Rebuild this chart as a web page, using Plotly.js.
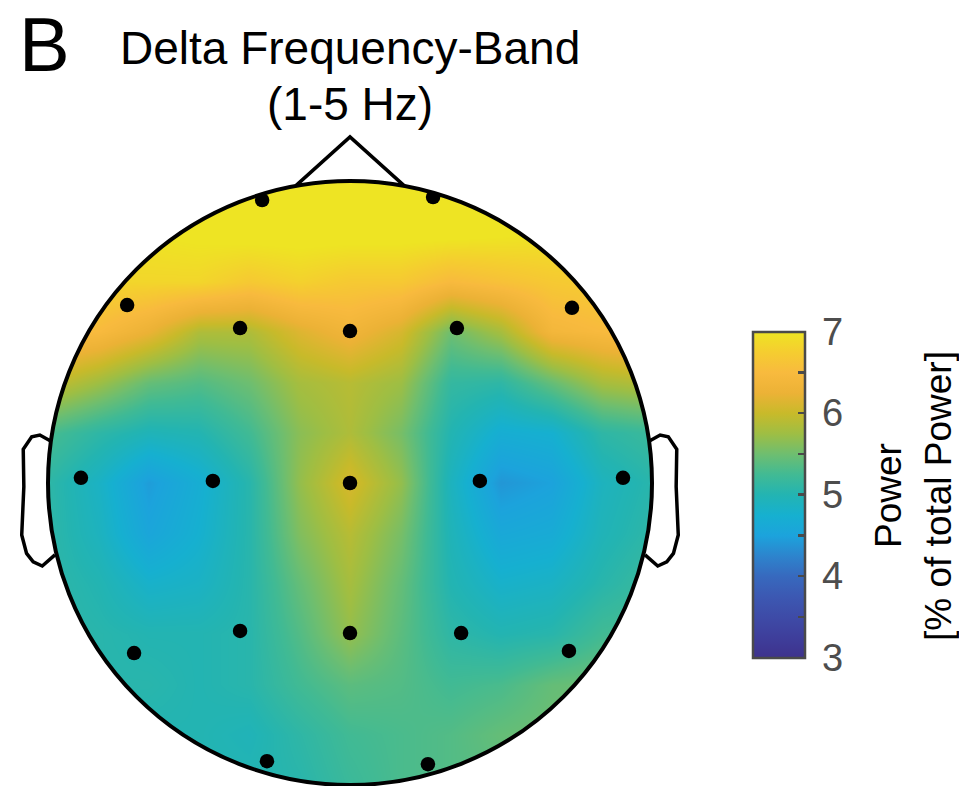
<!DOCTYPE html>
<html>
<head>
<meta charset="utf-8">
<script src="https://cdn.plot.ly/plotly-3.0.1.min.js"></script>
<style>
  html, body { margin: 0; padding: 0; background: #fff; }
  #topo { width: 959px; height: 786px; }
</style>
</head>
<body>
<div id="topo"></div>
<script>
// Scalp grid (head radius = 1), x left→right, rows listed front (nose) to back
const gridX = [-1, -0.8333, -0.6667, -0.5, -0.3333, -0.1667, 0, 0.1667, 0.3333, 0.5, 0.6667, 0.8333, 1];
const gridYFrontToBack = [1, 0.8333, 0.6667, 0.5, 0.3333, 0.1667, 0, -0.1667, -0.3333, -0.5, -0.6667, -0.8333, -1];
// Delta-band relative power (% of total power)
const powerFrontToBack = [
  [7.00, 7.00, 7.00, 7.00, 7.05, 7.05, 7.05, 7.05, 7.05, 7.00, 7.00, 7.00, 7.00],
  [6.95, 6.95, 7.00, 7.05, 7.10, 7.10, 7.10, 7.10, 7.10, 7.05, 7.00, 6.95, 6.90],
  [6.85, 6.85, 6.85, 6.85, 6.70, 6.80, 6.70, 6.70, 6.50, 6.60, 6.70, 6.75, 6.75],
  [6.60, 6.50, 6.25, 5.85, 5.85, 6.15, 6.35, 6.10, 5.50, 5.80, 6.40, 6.50, 6.60],
  [6.00, 5.75, 5.45, 5.35, 5.50, 5.80, 5.90, 5.75, 5.15, 5.10, 5.45, 5.80, 5.90],
  [5.30, 5.10, 4.95, 5.00, 5.25, 5.65, 5.85, 5.55, 5.00, 4.70, 4.75, 5.10, 5.20],
  [5.10, 4.85, 4.45, 4.70, 5.05, 5.70, 6.10, 5.70, 4.90, 4.40, 4.50, 4.90, 5.05],
  [5.10, 4.90, 4.55, 4.75, 5.05, 5.60, 5.90, 5.55, 4.95, 4.60, 4.65, 4.95, 5.10],
  [5.10, 5.00, 4.80, 4.85, 5.05, 5.45, 5.80, 5.45, 5.00, 4.80, 4.85, 5.05, 5.20],
  [5.10, 5.05, 5.00, 5.00, 5.05, 5.35, 5.70, 5.40, 5.10, 5.00, 5.05, 5.25, 5.30],
  [5.05, 5.05, 5.05, 5.00, 5.05, 5.25, 5.40, 5.35, 5.25, 5.30, 5.45, 5.50, 5.50],
  [5.00, 5.00, 5.00, 5.00, 4.95, 5.10, 5.25, 5.30, 5.35, 5.45, 5.50, 5.50, 5.50],
  [5.00, 5.00, 5.00, 5.00, 5.00, 5.05, 5.20, 5.30, 5.35, 5.40, 5.45, 5.50, 5.50]
];

// 10-20 electrode positions on the same unit-radius head
const channelNames = ['Fp1','Fp2','F7','F3','Fz','F4','F8','T3','C3','Cz','C4','T4','T5','P3','Pz','P4','T6','O1','O2'];
const channelX = [-0.291, 0.275, -0.738, -0.364, 0, 0.354, 0.735, -0.891, -0.454, 0, 0.430, 0.904, -0.715, -0.364, 0, 0.368, 0.725, -0.275, 0.258];
const channelY = [0.937, 0.947, 0.589, 0.513, 0.503, 0.513, 0.580, 0.017, 0.007, 0, 0.007, 0.017, -0.563, -0.490, -0.497, -0.497, -0.556, -0.921, -0.931];

// Colour bar ticks
const cbTickVals = [3, 3.5, 4, 4.5, 5, 5.5, 6, 6.5, 7];
const cbTickText = ['3', '', '4', '', '5', '', '6', '', '7'].map(t => t ? '\u2009' + t : t);

// parula-like colormap, evenly spaced stops from 3 to 7
const cmap = [
  [62, 50, 140], [62, 62, 155], [62, 75, 167], [60, 88, 178], [55, 105, 190],
  [45, 132, 205], [28, 163, 220], [22, 176, 208], [35, 180, 178], [65, 186, 148],
  [110, 190, 112], [158, 190, 68], [200, 186, 42], [236, 178, 54], [248, 186, 62],
  [245, 205, 48], [238, 228, 35]
];
const colorscale = cmap.map((c, i) => [i / (cmap.length - 1), 'rgb(' + c.join(',') + ')']);

// heatmap wants y ascending
const gridY = gridYFrontToBack.slice().reverse();
const power = powerFrontToBack.slice().reverse();

// white mask with a circular hole so the map shows only inside the head
function maskPath() {
  const R = 1.12, n = 180;
  let p = `M${-R},${-R} L${R},${-R} L${R},${R} L${-R},${R} Z `;
  for (let i = 0; i <= n; i++) {
    const a = -2 * Math.PI * i / n;
    p += (i === 0 ? 'M' : 'L') + Math.cos(a).toFixed(5) + ',' + Math.sin(a).toFixed(5) + ' ';
  }
  return p + 'Z';
}
const leftEar = [[-0.993,0.140],[-1.027,0.159],[-1.054,0.153],[-1.082,0.112],[-1.080,-0.012],
                 [-1.087,-0.172],[-1.071,-0.233],[-1.049,-0.261],[-1.019,-0.275],[-0.977,-0.238]];
function polyPath(pts) {
  return pts.map((p, i) => (i ? 'L' : 'M') + p[0] + ',' + p[1]).join(' ');
}
const rightEar = leftEar.map(p => [-p[0], p[1]]);

const FONT = 'Liberation Sans, Arial, Helvetica, sans-serif';

const data = [
  {
    type: 'heatmap',
    x: gridX, y: gridY, z: power,
    zmin: 3, zmax: 7,
    zsmooth: 'best',
    colorscale: colorscale,
    hoverinfo: 'skip',
    colorbar: {
      x: 753 / 959, xanchor: 'left', xpad: 0,
      y: 1 - 494.5 / 786, yanchor: 'middle', ypad: 0,
      len: 326, lenmode: 'pixels',
      thickness: 52, thicknessmode: 'pixels',
      outlinewidth: 2.5, outlinecolor: '#4a4a4a',
      ticks: 'inside', ticklen: 8, tickwidth: 2.5, tickcolor: '#4a4a4a',
      tickvals: cbTickVals, ticktext: cbTickText,
      tickfont: { family: FONT, size: 38, color: '#4d4d4d' }
    }
  },
  {
    type: 'scatter', mode: 'markers',
    x: channelX, y: channelY, text: channelNames,
    hoverinfo: 'text',
    marker: { size: 14.5, color: '#000' }
  }
];

const S = 302; // px per unit radius
const layout = {
  width: 959, height: 786, autosize: false,
  margin: { l: 0, r: 0, t: 0, b: 0, pad: 0 },
  paper_bgcolor: '#fff', plot_bgcolor: '#fff',
  showlegend: false,
  xaxis: { range: [-350 / S, 609 / S], visible: false, fixedrange: true },
  yaxis: { range: [(483 - 786) / S, 483 / S], visible: false, fixedrange: true },
  shapes: [
    { type: 'path', path: maskPath(), fillrule: 'evenodd', fillcolor: '#fff', line: { width: 0 }, layer: 'above' },
    { type: 'circle', x0: -1, x1: 1, y0: -1, y1: 1, line: { color: '#000', width: 4 }, layer: 'above' },
    { type: 'path', path: 'M-0.18,0.984 L0,1.146 L0.18,0.984', line: { color: '#000', width: 3.5 }, layer: 'above' },
    { type: 'path', path: polyPath(leftEar), line: { color: '#000', width: 3.5 }, layer: 'above' },
    { type: 'path', path: polyPath(rightEar), line: { color: '#000', width: 3.5 }, layer: 'above' }
  ],
  annotations: [
    { text: 'B', xref: 'paper', yref: 'paper', x: 17 / 959, y: 1, xanchor: 'left', yanchor: 'top',
      showarrow: false, font: { family: FONT, size: 76, color: '#000' } },
    { text: 'Delta Frequency-Band', xref: 'paper', yref: 'paper', x: 350 / 959, y: 1 - 48 / 786, xanchor: 'center', yanchor: 'middle',
      showarrow: false, font: { family: FONT, size: 46, color: '#000' } },
    { text: '(1-5 Hz)', xref: 'paper', yref: 'paper', x: 350 / 959, y: 1 - 104 / 786, xanchor: 'center', yanchor: 'middle',
      showarrow: false, font: { family: FONT, size: 46, color: '#000' } },
    { text: 'Power', xref: 'paper', yref: 'paper', x: 888 / 959, y: 1 - 496 / 786, xanchor: 'center', yanchor: 'middle',
      textangle: -90, showarrow: false, font: { family: FONT, size: 37, color: '#000' } },
    { text: '[% of total Power]', xref: 'paper', yref: 'paper', x: 938 / 959, y: 1 - 496 / 786, xanchor: 'center', yanchor: 'middle',
      textangle: -90, showarrow: false, font: { family: FONT, size: 37, color: '#000' } }
  ]
};

Plotly.newPlot('topo', data, layout, { displayModeBar: false, staticPlot: true });
</script>
</body>
</html>
